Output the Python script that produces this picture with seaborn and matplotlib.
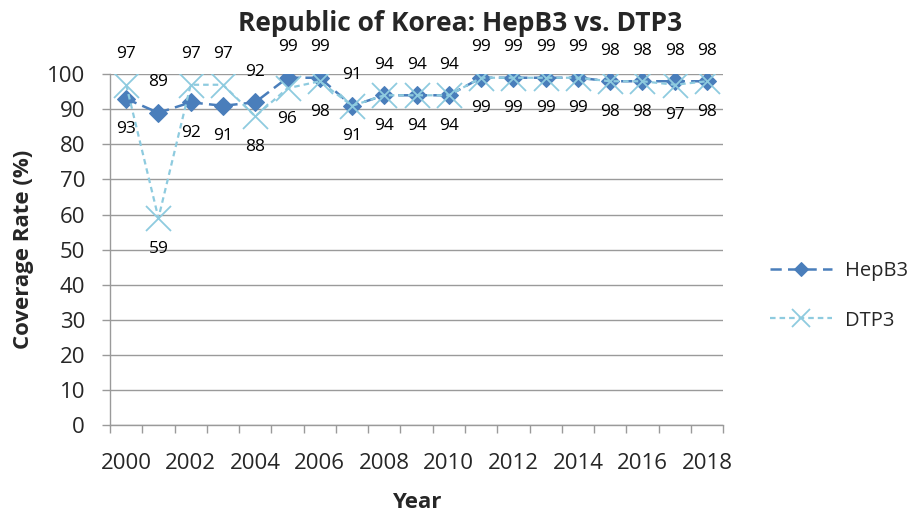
import numpy as np
import pandas as pd
import matplotlib
matplotlib.use('Agg')
import matplotlib.pyplot as plt
from matplotlib.ticker import FixedLocator, MultipleLocator
import seaborn as sns

# --- Data ---
years = list(range(2000, 2019))
hepb3 = [93, 89, 92, 91, 92, 99, 99, 91, 94, 94, 94, 99, 99, 99, 99, 98, 98, 98, 98]
dtp3 = [97, 59, 97, 97, 88, 96, 98, 91, 94, 94, 94, 99, 99, 99, 99, 98, 98, 97, 98]
tick_years = years[::2]

HEP_COLOR = '#4A7EBB'
DTP_COLOR = '#8ECBDF'
GRID = '#9A9A9A'

sns.set_theme(style='white')
plt.rcParams['font.family'] = ['Open Sans', 'DejaVu Sans']

idx = np.arange(len(years))
df_hep = pd.DataFrame({'idx': idx, 'rate': hepb3})
df_dtp = pd.DataFrame({'idx': idx, 'rate': dtp3})

fig, ax = plt.subplots(figsize=(9.2, 5.12), dpi=100)
fig.subplots_adjust(left=0.1196, right=0.786, bottom=0.170, top=0.855)

sns.lineplot(data=df_hep, x='idx', y='rate', ax=ax, color=HEP_COLOR, linewidth=1.8,
             linestyle=(0, (4.5, 2.5)), marker='D', markersize=9,
             markeredgecolor=HEP_COLOR, label='HepB3', zorder=3)
sns.lineplot(data=df_dtp, x='idx', y='rate', ax=ax, color=DTP_COLOR, linewidth=1.6,
             linestyle=(0, (2.5, 1.8)), marker='x', markersize=18,
             markeredgewidth=1.3, markeredgecolor=DTP_COLOR, label='DTP3', zorder=4)

# data labels: higher value above, lower value below
for i in idx:
    hi = max(hepb3[i], dtp3[i])
    lo = min(hepb3[i], dtp3[i])
    ax.annotate(str(hi), (i, hi), xytext=(0, 22), textcoords='offset points',
                ha='center', va='center', fontsize=12.5, color='black')
    ax.annotate(str(lo), (i, lo), xytext=(0, -22), textcoords='offset points',
                ha='center', va='center', fontsize=12.5, color='black')

ax.set_xlim(-0.5, len(years) - 0.5)
ax.set_ylim(0, 100)
ax.yaxis.set_major_locator(MultipleLocator(10))
ax.xaxis.set_major_locator(FixedLocator(idx[::2]))
ax.set_xticklabels([str(y) for y in tick_years])
ax.xaxis.set_minor_locator(FixedLocator(np.arange(-0.5, len(years), 1.0)))

ax.tick_params(axis='x', which='major', length=0, pad=20, labelsize=16)
ax.tick_params(axis='x', which='minor', length=6, width=1, color=GRID, direction='out', bottom=True)
ax.tick_params(axis='y', which='major', length=6, width=1, color=GRID, direction='out', left=True,
               labelsize=16, pad=12)

ax.grid(axis='y', color=GRID, linewidth=1)
ax.set_axisbelow(True)
for s in ['top', 'right']:
    ax.spines[s].set_visible(False)
for s in ['left', 'bottom']:
    ax.spines[s].set_color(GRID)
    ax.spines[s].set_linewidth(1)

ax.set_xlabel('Year', fontsize=16, fontweight='bold', labelpad=13)
ax.set_ylabel('Coverage Rate (%)', fontsize=16, fontweight='bold', labelpad=9)
fig.suptitle('Republic of Korea: HepB3 vs. DTP3', x=0.5, y=0.98, fontsize=19, fontweight='bold')

ax.get_legend().remove()
handles, labels = ax.get_legend_handles_labels()
fig.legend(handles, labels, loc='center left', bbox_to_anchor=(0.837, 0.422), frameon=False,
           borderpad=0, borderaxespad=0, fontsize=14.5, handlelength=3.1,
           labelspacing=1.45, handletextpad=0.6, markerscale=0.75)

fig.savefig('out.png', dpi=100)
